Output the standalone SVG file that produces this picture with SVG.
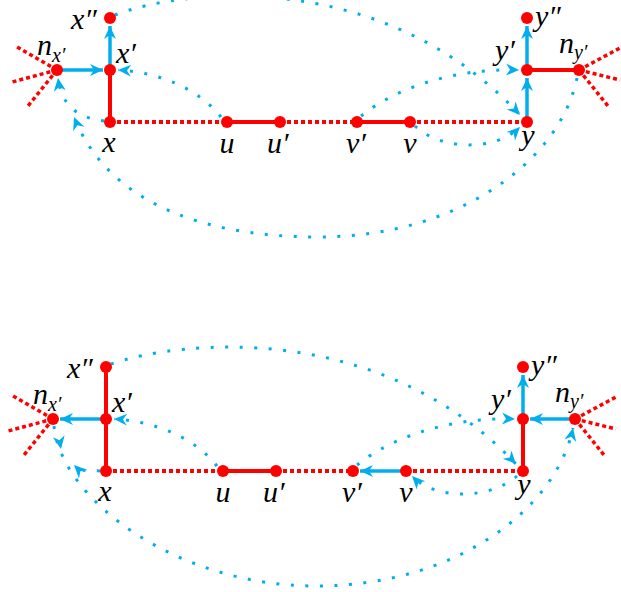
<svg xmlns="http://www.w3.org/2000/svg" xmlns:xlink="http://www.w3.org/1999/xlink" width="621" height="592" viewBox="0 0 621 592">
<style>
.rs{fill:none;stroke:#ff0000;stroke-width:4}
.rd{fill:none;stroke:#ff0000;stroke-width:4;stroke-dasharray:4 3}
.rf{fill:none;stroke:#ff0000;stroke-width:3.5;stroke-dasharray:4 3}
.bs{fill:none;stroke:#00aeef;stroke-width:3.5;marker-end:url(#ah)}
.bd{fill:none;stroke:#00aeef;stroke-width:3;stroke-dasharray:3 11.5;marker-end:url(#ah)}
.nd{fill:#ff0000}
text{font-family:'Liberation Serif','DejaVu Serif',serif;font-style:italic;font-size:30px;fill:#000}
.sb{font-size:20px}
</style>
<defs>
<marker id="ah" markerUnits="userSpaceOnUse" markerWidth="16" markerHeight="14" viewBox="-14 -7 16 14" refX="0" refY="0" orient="auto">
<path d="M0,0 L-13,-6 L-9,0 L-13,6 Z" fill="#00aeef"/>
</marker>
<path id="ahs" d="M0,0 L-13,-6 L-9,0 L-13,6 Z" fill="#00aeef"/>
</defs>

<!-- TOP DIAGRAM -->
<g id="top">
<g id="top-connectors">
<path class="rs" d="M110,70 V122 M227,122 H280 M357,122 H410 M527,70 H579"/>
<path class="rd" d="M110,122 H227 M280,122 H357 M410,122 H527"/>
<path class="rf" d="M57,70 L17,47 M57,70 L12,82 M57,70 L28,106 M579,70 L620,48 M579,70 L620,80 M579,70 L608,106"/>
<path class="bs" d="M57,70 H103"/>
<path class="bs" d="M110,70 V26"/>
<path class="bs" d="M527,122 V78"/>
<path class="bs" d="M527,70 V26"/>
<path class="bd" d="M115,15 C184,-12 384,-32 520,115"/>
<path class="bd" d="M221,117 C200,90 160,72 118,70"/>
<path class="bd" d="M361,116 C400,85 460,68 519,70"/>
<path class="bd" d="M415,126 C440,150 495,152 520,127"/>
<path class="bd" d="M577,78 C560,160 460,237 318,237 C190,237 105,195 74,117"/>
<path class="bd" d="M104,121 C80,118 62,108 58,78"/>
</g>
<g id="t-x2"><circle class="nd" cx="110" cy="18" r="6"/><text x="71" y="29">x″</text></g>
<g id="t-x1"><circle class="nd" cx="110" cy="70" r="6"/><text x="116" y="63">x′</text></g>
<g id="t-x"><circle class="nd" cx="110" cy="122" r="6"/><text x="109" y="152" text-anchor="middle">x</text></g>
<g id="t-nx"><circle class="nd" cx="57" cy="70" r="6"/><text x="37" y="55">n<tspan class="sb" dy="7">x′</tspan></text></g>
<g id="t-u"><circle class="nd" cx="227" cy="122" r="6"/><text x="227" y="153" text-anchor="middle">u</text></g>
<g id="t-u1"><circle class="nd" cx="280" cy="122" r="6"/><text x="267" y="153">u′</text></g>
<g id="t-v1"><circle class="nd" cx="357" cy="122" r="6"/><text x="346" y="153">v′</text></g>
<g id="t-v"><circle class="nd" cx="410" cy="122" r="6"/><text x="410" y="153" text-anchor="middle">v</text></g>
<g id="t-y"><circle class="nd" cx="527" cy="122" r="6"/><text x="528" y="145" text-anchor="middle">y</text></g>
<g id="t-y1"><circle class="nd" cx="527" cy="70" r="6"/><text x="495" y="60">y′</text></g>
<g id="t-y2"><circle class="nd" cx="527" cy="18" r="6"/><text x="535" y="26">y″</text></g>
<g id="t-ny"><circle class="nd" cx="579" cy="70" r="6"/><text x="559" y="53">n<tspan class="sb" dy="6">y′</tspan></text></g>
</g>

<!-- BOTTOM DIAGRAM -->
<g id="bottom" transform="translate(-4,349)">
<g id="bottom-connectors">
<path class="rs" d="M110,18 V70 M110,70 V122 M227,122 H280 M527,70 V122"/>
<path class="rd" d="M110,122 H227 M280,122 H357 M410,122 H527"/>
<path class="rf" d="M57,70 L17,47 M57,70 L12,82 M57,70 L28,106 M579,70 L620,48 M579,70 L620,80 M579,70 L608,106"/>
<path class="bs" d="M110,70 H64"/>
<path class="bs" d="M410,122 H364"/>
<path class="bs" d="M527,70 V26"/>
<path class="bs" d="M579,70 H534"/>
<path class="bd" d="M115,15 C184,-9 384,-29 520,115"/>
<path class="bd" d="M221,117 C200,90 160,72 118,70"/>
<path class="bd" d="M361,116 C400,85 460,68 519,70"/>
<path class="bd" d="M521,127 C495,150 440,152 416,127"/>
<path class="bd" d="M58,77 C65,150 180,237 320,237 C460,237 560,160 577,79"/>
<use xlink:href="#ahs" href="#ahs" transform="translate(65,100) rotate(80)"/>
<path class="bd" d="M104,122 C94,121 86,124 78,116"/>
</g>
<g id="b-x2"><circle class="nd" cx="110" cy="18" r="6"/><text x="71" y="29">x″</text></g>
<g id="b-x1"><circle class="nd" cx="110" cy="70" r="6"/><text x="116" y="63">x′</text></g>
<g id="b-x"><circle class="nd" cx="110" cy="122" r="6"/><text x="109" y="152" text-anchor="middle">x</text></g>
<g id="b-nx"><circle class="nd" cx="57" cy="70" r="6"/><text x="37" y="55">n<tspan class="sb" dy="7">x′</tspan></text></g>
<g id="b-u"><circle class="nd" cx="227" cy="122" r="6"/><text x="227" y="153" text-anchor="middle">u</text></g>
<g id="b-u1"><circle class="nd" cx="280" cy="122" r="6"/><text x="267" y="153">u′</text></g>
<g id="b-v1"><circle class="nd" cx="357" cy="122" r="6"/><text x="346" y="153">v′</text></g>
<g id="b-v"><circle class="nd" cx="410" cy="122" r="6"/><text x="410" y="153" text-anchor="middle">v</text></g>
<g id="b-y"><circle class="nd" cx="527" cy="122" r="6"/><text x="528" y="145" text-anchor="middle">y</text></g>
<g id="b-y1"><circle class="nd" cx="527" cy="70" r="6"/><text x="495" y="60">y′</text></g>
<g id="b-y2"><circle class="nd" cx="527" cy="18" r="6"/><text x="535" y="26">y″</text></g>
<g id="b-ny"><circle class="nd" cx="579" cy="70" r="6"/><text x="559" y="53">n<tspan class="sb" dy="6">y′</tspan></text></g>
</g>
</svg>
